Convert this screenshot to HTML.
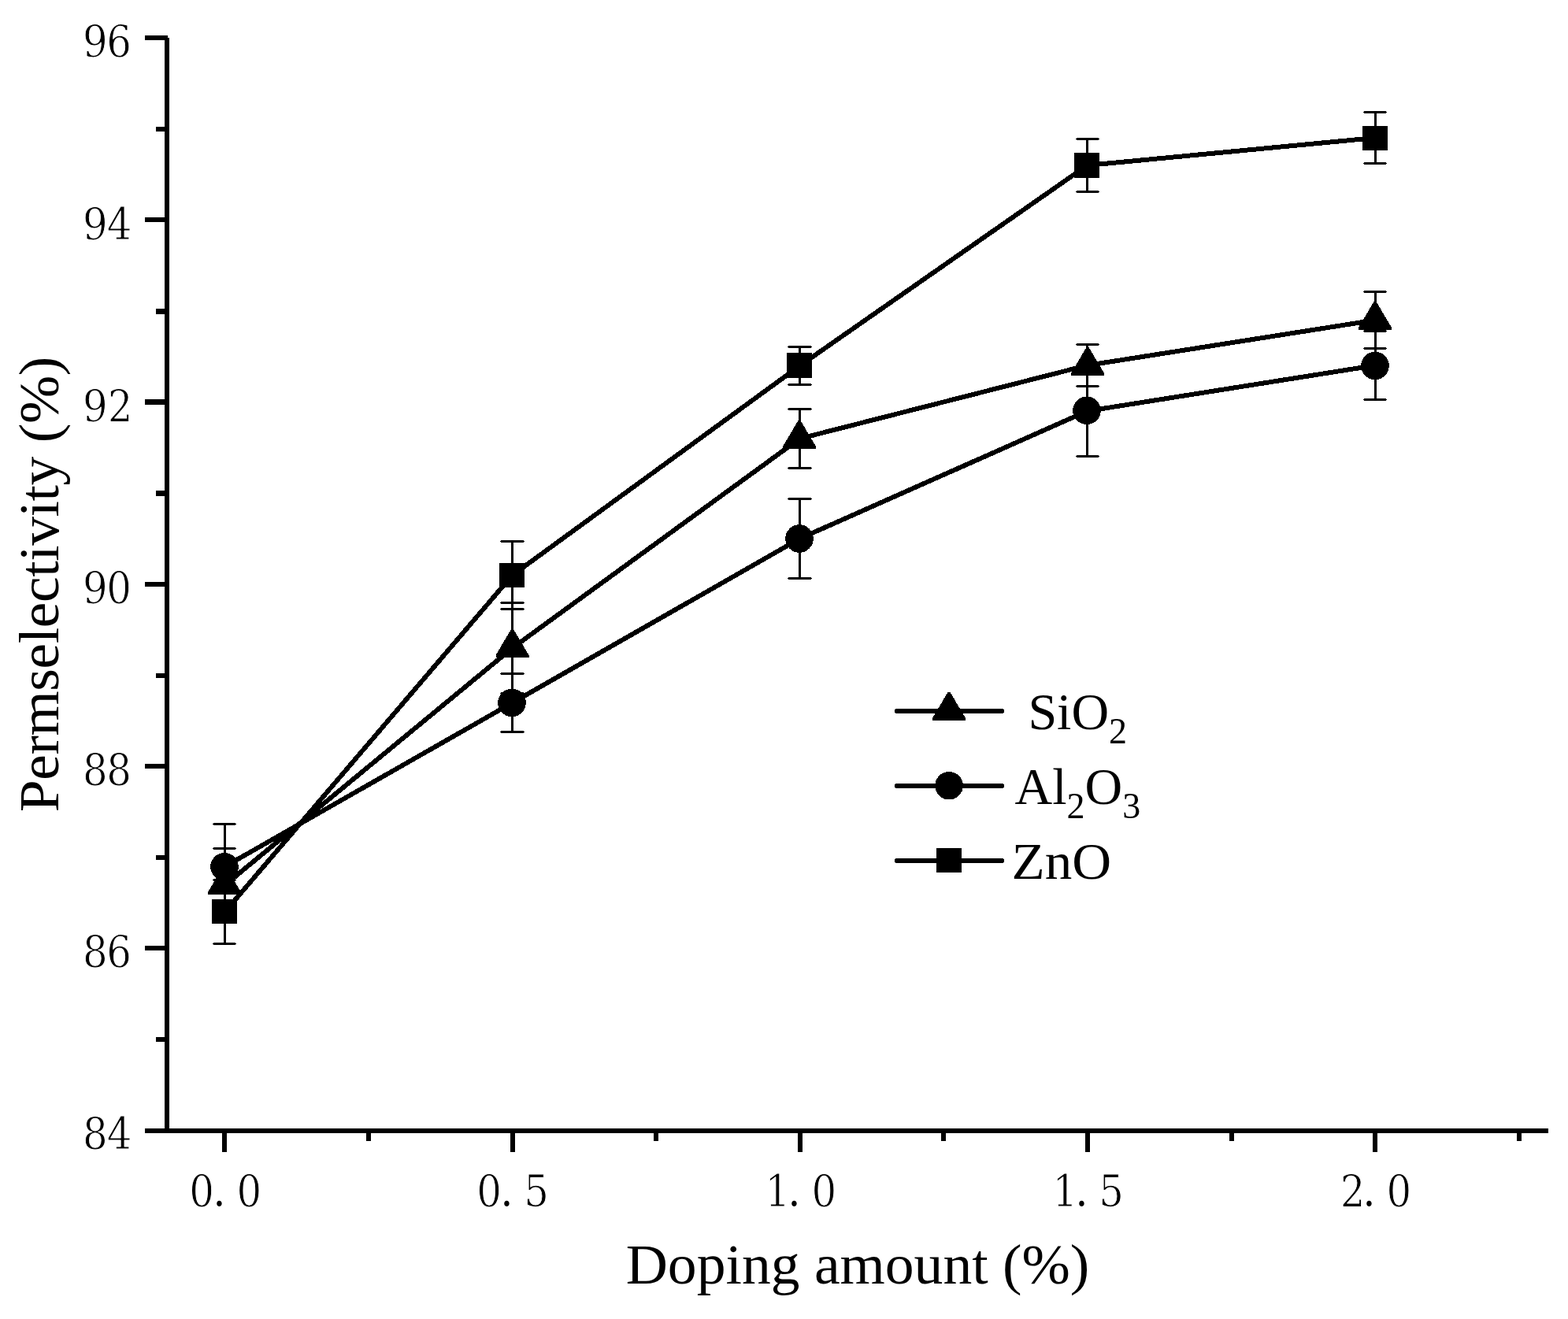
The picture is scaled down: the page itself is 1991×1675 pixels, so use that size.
<!DOCTYPE html>
<html lang="en">
<head>
<meta charset="utf-8">
<title>Permselectivity vs doping amount</title>
<style>
html,body{margin:0;padding:0;background:#fff;}
body{width:1991px;height:1675px;overflow:hidden;}
svg{display:block;}
text{white-space:pre;}
</style>
</head>
<body>
<svg width="1991" height="1675" viewBox="0 0 1991 1675" role="img" aria-label="Permselectivity (%) versus doping amount (%) for SiO2, Al2O3 and ZnO">
<rect width="1991" height="1675" fill="#fff"/>
<g id="axes" fill="#000" shape-rendering="crispEdges">
<rect x="209" y="48" width="6" height="1391"/>
<rect x="184" y="1433" width="1782" height="6"/>
<rect x="198" y="1317" width="12" height="6"/>
<rect x="184" y="1201" width="26" height="6"/>
<rect x="198" y="1086" width="12" height="6"/>
<rect x="184" y="970" width="26" height="6"/>
<rect x="198" y="855" width="12" height="6"/>
<rect x="184" y="739" width="26" height="6"/>
<rect x="198" y="623" width="12" height="7"/>
<rect x="184" y="507" width="26" height="7"/>
<rect x="198" y="392" width="12" height="7"/>
<rect x="184" y="276" width="26" height="6"/>
<rect x="198" y="161" width="12" height="6"/>
<rect x="184" y="45" width="29" height="6"/>
<rect x="282" y="1436" width="6" height="27"/>
<rect x="465" y="1436" width="6" height="13"/>
<rect x="648" y="1436" width="6" height="27"/>
<rect x="830" y="1436" width="6" height="13"/>
<rect x="1013" y="1436" width="6" height="27"/>
<rect x="1195" y="1436" width="6" height="13"/>
<rect x="1378" y="1436" width="6" height="27"/>
<rect x="1561" y="1436" width="6" height="13"/>
<rect x="1743" y="1436" width="6" height="27"/>
<rect x="1926" y="1436" width="6" height="13"/>
</g>
<g id="data" fill="#000" stroke="none" shape-rendering="crispEdges">
<g class="series-tri">
<path class="errorbars" d="M284 1077.5h3V1170.5h-3zM271 1076H299v1h1v1h-1v1H271v-1h-1v-1h1zM271 1169H299v1h1v1h-1v1H271v-1h-1v-1h1zM649 765.5h3V880.5h-3zM636 764H665v1h1v1h-1v1H636v-1h-1v-1h1zM636 879H665v1h1v1h-1v1H636v-1h-1v-1h1zM1014 519.5h3V594.5h-3zM1001 518H1030v1h1v1h-1v1H1001v-1h-1v-1h1zM1001 593H1030v1h1v1h-1v1H1001v-1h-1v-1h1zM1379 437.5h3V490.5h-3zM1367 436H1395v1h1v1h-1v1H1367v-1h-1v-1h1zM1367 489H1395v1h1v1h-1v1H1367v-1h-1v-1h1zM1745 370.5h3V442.5h-3zM1732 369H1760v1h1v1h-1v1H1732v-1h-1v-1h1zM1732 441H1760v1h1v1h-1v1H1732v-1h-1v-1h1z"/>
<polyline fill="none" stroke="#000" stroke-width="6" stroke-linejoin="round" points="285.5,1124 650.5,823 1015.5,557 1380.5,464 1746.5,406.5"/>
<polygon points="283.5,1100 286.5,1100 306,1133 306,1136 264,1136 264,1133"/>
<polygon points="649,799 652,799 671.5,832 671.5,835 629.5,835 629.5,832"/>
<polygon points="1013.5,534 1016.5,534 1036,567 1036,570 994,570 994,567"/>
<polygon points="1379.5,441 1382.5,441 1402,474 1402,477 1360,477 1360,474"/>
<polygon points="1744.5,383 1747.5,383 1767,416 1767,419 1725,419 1725,416"/>
</g>
<g class="series-cir">
<path class="errorbars" d="M284 1046.5h3V1154.5h-3zM271 1045H299v1h1v1h-1v1H271v-1h-1v-1h1zM271 1153H299v1h1v1h-1v1H271v-1h-1v-1h1zM649 855.5h3V929.5h-3zM636 854H665v1h1v1h-1v1H636v-1h-1v-1h1zM636 928H665v1h1v1h-1v1H636v-1h-1v-1h1zM1014 633.5h3V734.5h-3zM1001 632H1030v1h1v1h-1v1H1001v-1h-1v-1h1zM1001 733H1030v1h1v1h-1v1H1001v-1h-1v-1h1zM1379 464.5h3V579.5h-3zM1367 463H1395v1h1v1h-1v1H1367v-1h-1v-1h1zM1367 578H1395v1h1v1h-1v1H1367v-1h-1v-1h1zM1745 420.5h3V507.5h-3zM1732 419H1760v1h1v1h-1v1H1732v-1h-1v-1h1zM1732 506H1760v1h1v1h-1v1H1732v-1h-1v-1h1z"/>
<polyline fill="none" stroke="#000" stroke-width="6" stroke-linejoin="round" points="285.5,1100.5 650.5,892.5 1015.5,684 1380.5,522 1746.5,464"/>
<circle cx="285" cy="1100.8" r="17.8"/>
<circle cx="650" cy="892.5" r="17.8"/>
<circle cx="1015" cy="684" r="17.8"/>
<circle cx="1380" cy="521.3" r="17.8"/>
<circle cx="1746" cy="464.5" r="17.8"/>
</g>
<g class="series-sq">
<path class="errorbars" d="M284 1117.5h3V1198.5h-3zM271 1116H299v1h1v1h-1v1H271v-1h-1v-1h1zM271 1197H299v1h1v1h-1v1H271v-1h-1v-1h1zM649 687.5h3V773.5h-3zM636 686H665v1h1v1h-1v1H636v-1h-1v-1h1zM636 772H665v1h1v1h-1v1H636v-1h-1v-1h1zM1014 440.5h3V488.5h-3zM1001 439H1030v1h1v1h-1v1H1001v-1h-1v-1h1zM1001 487H1030v1h1v1h-1v1H1001v-1h-1v-1h1zM1379 176.5h3V243.5h-3zM1367 175H1395v1h1v1h-1v1H1367v-1h-1v-1h1zM1367 242H1395v1h1v1h-1v1H1367v-1h-1v-1h1zM1745 142.5h3V207.5h-3zM1732 141H1760v1h1v1h-1v1H1732v-1h-1v-1h1zM1732 206H1760v1h1v1h-1v1H1732v-1h-1v-1h1z"/>
<polyline fill="none" stroke="#000" stroke-width="6" stroke-linejoin="round" points="285.5,1158 650.5,730.5 1015.5,464.5 1380.5,210 1746.5,175"/>
<rect x="269" y="1142" width="32" height="31"/>
<rect x="634" y="715" width="32" height="31"/>
<rect x="999" y="448" width="32" height="32"/>
<rect x="1364" y="194" width="32" height="32"/>
<rect x="1730" y="160" width="32" height="31"/>
</g>
</g>
<g id="legend" fill="#000" stroke="#000" shape-rendering="crispEdges">
<line x1="1139.2" y1="903.0" x2="1272.0" y2="903.0" stroke-width="6" stroke-linecap="round"/>
<g stroke="none"><polygon points="1203.5,879 1206.5,879 1226,912 1226,915 1184,915 1184,912"/></g>
<line x1="1139.2" y1="998.0" x2="1272.0" y2="998.0" stroke-width="6" stroke-linecap="round"/>
<g stroke="none"><circle cx="1205.1" cy="997.7" r="17.8"/></g>
<line x1="1139.2" y1="1093.0" x2="1272.0" y2="1093.0" stroke-width="6" stroke-linecap="round"/>
<g stroke="none"><rect x="1189" y="1077" width="32" height="31"/></g>
</g>
<g id="legend-text" fill="#000" font-family="'Liberation Serif',serif" font-size="66">
<text x="1305.4" y="926.0">SiO<tspan font-size="46" dy="18.2">2</tspan></text>
<text x="1288.6" y="1021.0">Al<tspan font-size="46" dy="18.2">2</tspan><tspan dy="-18.2">O</tspan><tspan font-size="46" dy="18.2">3</tspan></text>
<text transform="translate(1284.55 1115.9) scale(1.047 1)">ZnO</text>
</g>
<g id="titles" fill="#000" font-family="'Liberation Serif',serif" font-size="73.6">
<text transform="translate(794.7 1630) scale(1 0.985)">Doping amount (%)</text>
<text transform="translate(74 1031.2) rotate(-90) scale(1 0.985)" letter-spacing="-0.45">Permselectivity (%)</text>
</g>
<g id="ticklabels" fill="#000" stroke="#fff" stroke-width="0.95" stroke-linejoin="round" font-family="'DejaVu Serif','Liberation Serif',serif" font-size="55.39">
<text transform="translate(105.80 1459.42) scale(0.9008 1)" x="-0.83 33.36" y="0">84</text>
<text transform="translate(105.80 1228.25) scale(0.9008 1)" x="-0.83 32.62" y="0">86</text>
<text transform="translate(105.80 997.08) scale(0.9008 1)" x="-0.83 32.70" y="0">88</text>
<text transform="translate(105.80 765.91) scale(0.9008 1)" x="-0.77 32.59" y="0">90</text>
<text transform="translate(105.80 534.74) scale(0.9008 1)" x="-0.77 34.45" y="0">92</text>
<text transform="translate(105.80 303.57) scale(0.9008 1)" x="-0.77 33.36" y="0">94</text>
<text transform="translate(105.80 72.40) scale(0.9008 1)" x="-0.77 32.62" y="0">96</text>
<text transform="translate(241.00 1531.95) scale(0.9008 1)" x="-0.94 32.77 66.11" y="0">0<tspan stroke="none" dy="-0.6">.</tspan><tspan dy="0.6">0</tspan></text>
<text transform="translate(606.00 1531.95) scale(0.9008 1)" x="-0.94 32.77 65.89" y="0">0<tspan stroke="none" dy="-0.6">.</tspan><tspan dy="0.6">5</tspan></text>
<text transform="translate(971.00 1531.95) scale(0.9008 1)" x="0.51 32.77 66.11" y="0">1<tspan stroke="none" dy="-0.6">.</tspan><tspan dy="0.6">0</tspan></text>
<text transform="translate(1336.00 1531.95) scale(0.9008 1)" x="0.51 32.77 65.89" y="0">1<tspan stroke="none" dy="-0.6">.</tspan><tspan dy="0.6">5</tspan></text>
<text transform="translate(1701.00 1531.95) scale(0.9008 1)" x="0.92 32.77 66.11" y="0">2<tspan stroke="none" dy="-0.6">.</tspan><tspan dy="0.6">0</tspan></text>
</g>
</svg>
</body>
</html>
